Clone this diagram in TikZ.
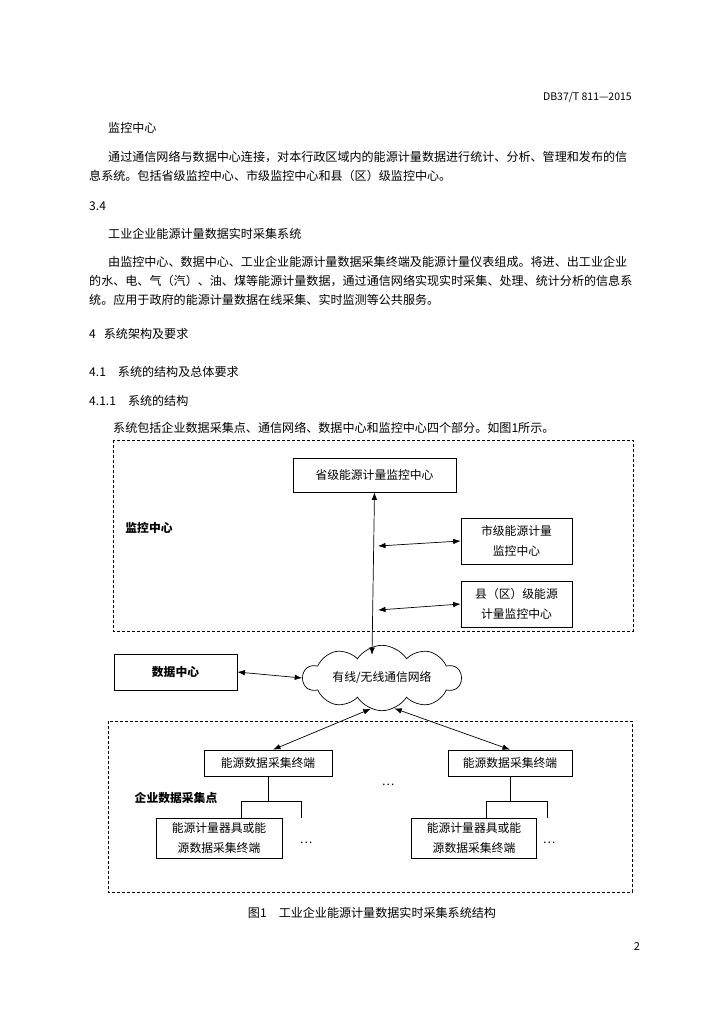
\documentclass[tikz,border=0pt]{standalone}
\usepackage{fontspec}
\setmainfont{Noto Sans CJK SC}
\usetikzlibrary{arrows.meta,shapes.symbols}

\newcommand{\bodysize}{\fontsize{12.07}{19}\selectfont}
\newcommand{\boxsize}{\fontsize{11.8}{19.5}\selectfont}

\begin{document}
\begin{tikzpicture}[x=1pt,y=-1pt,
    every node/.style={inner sep=0pt},
    line/.style={anchor=west, font=\bodysize},
    box/.style={draw, line width=0.7pt, align=center, font=\boxsize},
    region/.style={draw, line width=0.7pt, dash pattern=on 3pt off 2pt},
    link/.style={line width=0.7pt, {Latex[length=7.5pt,width=5.5pt]}-{Latex[length=7.5pt,width=5.5pt]}},
    tree/.style={line width=0.7pt}]
    \fill[white] (0,0) rectangle (724,1024);
    \useasboundingbox (0,0) rectangle (724,1024);

    % Page text
    \node[anchor=east, font=\fontsize{10.5}{12}\selectfont] (hdr) at (632,97) {DB37/T 811—2015};
    \node[line] (t1) at (108,128) {监控中心};
    \node[line] (t2) at (108,157) {通过通信网络与数据中心连接，对本行政区域内的能源计量数据进行统计、分析、管理和发布的信};
    \node[line] (t3) at (89,176) {息系统。包括省级监控中心、市级监控中心和县（区）级监控中心。};
    \node[line] (t4) at (89,206) {3.4};
    \node[line] (t5) at (108,234) {工业企业能源计量数据实时采集系统};
    \node[line] (t6) at (108,262) {由监控中心、数据中心、工业企业能源计量数据采集终端及能源计量仪表组成。将进、出工业企业};
    \node[line] (t7) at (89,281) {的水、电、气（汽）、油、煤等能源计量数据，通过通信网络实现实时采集、处理、统计分析的信息系};
    \node[line] (t8) at (89,300) {统。应用于政府的能源计量数据在线采集、实时监测等公共服务。};
    \node[line] (t9) at (89,334) {4\hspace{8pt}系统架构及要求};
    \node[line] (t10) at (89,372) {4.1\hspace{12pt}系统的结构及总体要求};
    \node[line] (t11) at (89,401) {4.1.1\hspace{12pt}系统的结构};
    \node[line] (t12) at (113,428) {系统包括企业数据采集点、通信网络、数据中心和监控中心四个部分。如图1所示。};

    % Regions
    \draw[region] (113,440) rectangle (633,631);
    \draw[region] (108,721) rectangle (632,892);

    % Monitoring centres
    \node[box, minimum width=163pt, minimum height=34pt] (prov) at (374.5,475) {省级能源计量监控中心};
    \node[box, minimum width=111pt, minimum height=46pt] (city) at (516.5,541) {市级能源计量\\监控中心};
    \node[box, minimum width=111pt, minimum height=46pt] (county) at (516.5,604) {县（区）级能源\\计量监控中心};
    \node[font=\boxsize\bfseries] (lblmon) at (149,528) {监控中心};

    % Data centre and network
    \node[box, font=\boxsize\bfseries, minimum width=123pt, minimum height=36pt] (datac) at (175.5,672) {数据中心};
    \node[cloud, draw, line width=0.7pt, cloud puffs=10, cloud puff arc=115, aspect=3.2,
          minimum width=158pt, minimum height=52pt, font=\boxsize] (net) at (382,678) {有线/无线通信网络};

    % Collection points
    \node[box, minimum width=128pt, minimum height=26pt] (termL) at (268,763) {能源数据采集终端};
    \node[box, minimum width=124pt, minimum height=26pt] (termR) at (510,763) {能源数据采集终端};
    \node[box, minimum width=126pt, minimum height=40pt] (leafL) at (219,838) {能源计量器具或能\\源数据采集终端};
    \node[box, minimum width=125pt, minimum height=40pt] (leafR) at (474,838) {能源计量器具或能\\源数据采集终端};
    \node[font=\boxsize\bfseries] (lblcol) at (176,798) {企业数据采集点};
    \node[font=\boxsize] (dotsM) at (388,785) {…};
    \node[font=\boxsize] (dotsL) at (306,843) {…};
    \node[font=\boxsize] (dotsR) at (549,843) {…};

    % Connectors
    \coordinate (nettop) at (372,655);
    \coordinate (cityjoin) at (378,546);
    \coordinate (countyjoin) at (378,610);
    \draw[link] (prov.south) -- (nettop);
    \draw[link] (cityjoin) -- (city.west);
    \draw[link] (countyjoin) -- (county.west);
    \draw[link] (datac.east) -- (net.west);
    \draw[link] (net.250) -- ([xshift=5pt]termL.north);
    \draw[link] (net.292) -- (termR.north);

    % Branches
    \coordinate (brL1) at (241,801);
    \coordinate (brL2) at (301,801);
    \coordinate (brR1) at (486,801);
    \coordinate (brR2) at (547,801);
    \draw[tree] (termL.south) -- (termL.south |- brL1);
    \draw[tree] (brL1 |- leafL.north) -- (brL1) -- (brL2) -- (brL2 |- leafL.north);
    \draw[tree] (termR.south) -- (termR.south |- brR1);
    \draw[tree] (brR1 |- leafR.north) -- (brR1) -- (brR2) -- (brR2 |- leafR.north);

    % Caption and page number
    \node[font=\bodysize] (cap) at (372,913) {图1\hspace{12pt}工业企业能源计量数据实时采集系统结构};
    \node[font=\fontsize{11}{12}\selectfont\rmfamily] (pgno) at (637,946) {2};
\end{tikzpicture}
\end{document}
